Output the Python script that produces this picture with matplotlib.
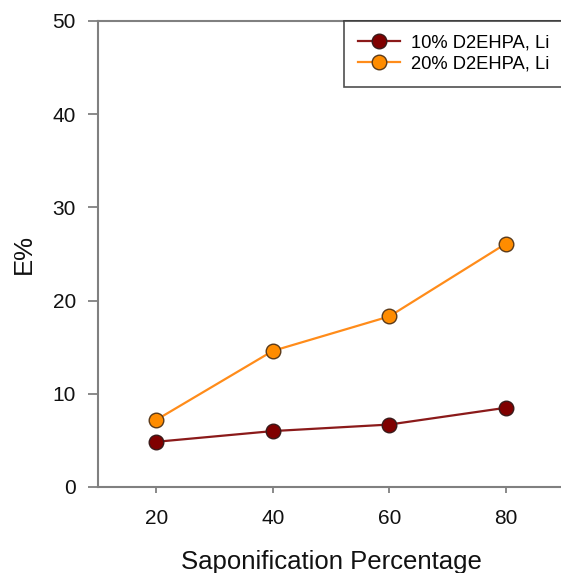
import matplotlib
matplotlib.use("Agg")
import matplotlib.pyplot as plt

plt.rcParams['font.family'] = ['Liberation Sans', 'DejaVu Sans']

x = [20, 40, 60, 80]
li10 = [4.85, 6.0, 6.7, 8.5]
li20 = [7.2, 14.6, 18.3, 26.1]
labels = ['10% D2EHPA, Li', '20% D2EHPA, Li']
xticks = [20, 40, 60, 80]
yticks = [0, 10, 20, 30, 40, 50]

W, H = 561, 573
fig = plt.figure(figsize=(W/100, H/100), dpi=100)
ax = fig.add_axes([98/W, 1-487/H, (564-98)/W, (487-21)/H])

ax.plot(x, li10, color='#8B1A1A', lw=1.6, marker='o', ms=10.5,
        mfc='#800000', mec='#3a1a1a', mew=1.0, label=labels[0], zorder=3)
ax.plot(x, li20, color='#FF8C1A', lw=1.6, marker='o', ms=10.5,
        mfc='#FF8C00', mec='#5a3a1a', mew=1.0, label=labels[1], zorder=3)

ax.set_xlim(10, 90)
ax.set_ylim(0, 50)
ax.set_xticks(xticks)
ax.set_yticks(yticks)

for s in ['left', 'bottom', 'top']:
    ax.spines[s].set_color('#808080')
    ax.spines[s].set_linewidth(1.5)
ax.spines['right'].set_visible(False)

ax.tick_params(axis='y', direction='out', length=7, width=1.3, color='#808080',
               labelsize=15, pad=9, labelcolor='#111111')
ax.tick_params(axis='x', direction='out', length=4.5, width=1.3, color='#808080',
               labelsize=15, pad=11, labelcolor='#111111')

ax.set_xlabel('Saponification Percentage', fontsize=18.5, labelpad=16, color='#111111')
ax.set_ylabel('E%', fontsize=18.5, labelpad=12, color='#111111')

leg = ax.legend(loc='upper left', bbox_to_anchor=(344/W, 1-21/H, 0.5, 0),
                bbox_transform=fig.transFigure, mode='expand',
                fontsize=13.2, frameon=True, fancybox=False,
                borderaxespad=0, handlelength=2.3, handletextpad=0.6,
                labelspacing=0.22, borderpad=0.75)
leg.get_frame().set_edgecolor('#222222')
leg.get_frame().set_linewidth(1.2)
leg.set_zorder(5)

fig.savefig('out.png', dpi=100)
